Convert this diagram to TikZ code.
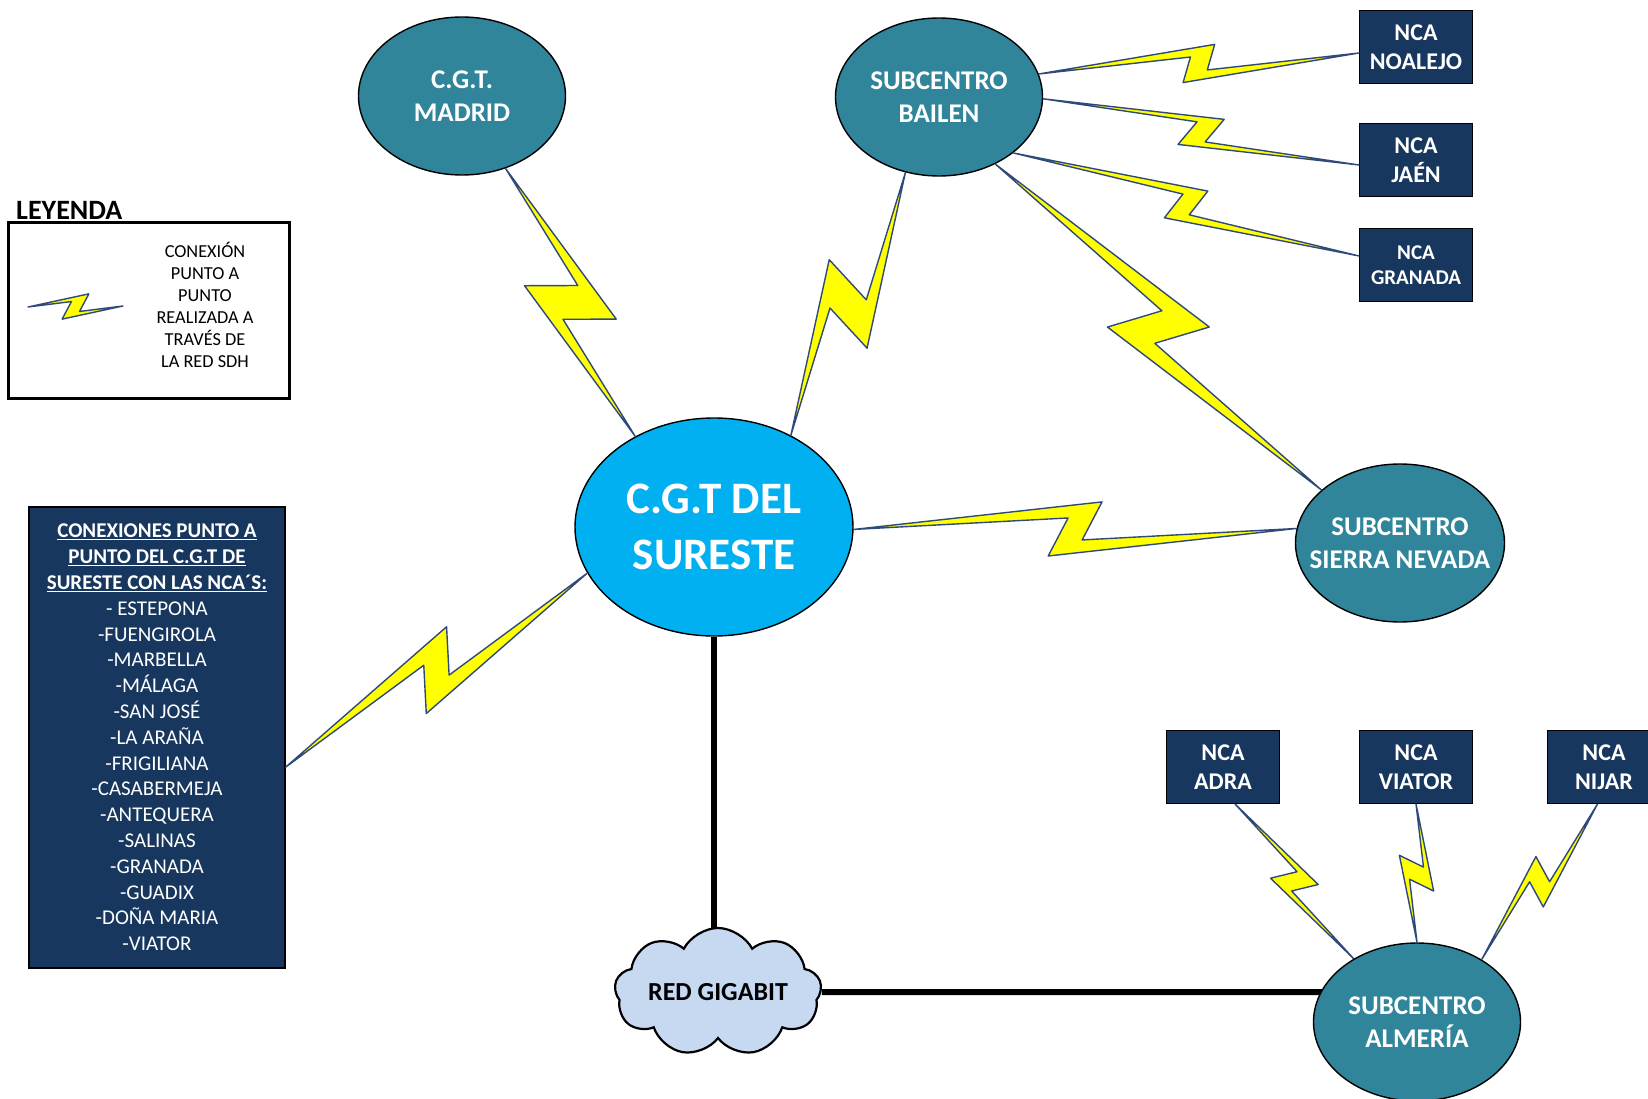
\documentclass[tikz,border=0pt]{standalone}
\usepackage{fontspec}
\setmainfont{Carlito}
\usetikzlibrary{shapes.geometric,shapes.symbols,calc}

\definecolor{hubteal}{HTML}{31859B}
\definecolor{cgtblue}{HTML}{00B0F0}
\definecolor{ncanavy}{HTML}{17375E}
\definecolor{cloudblue}{HTML}{C6D9F1}
\definecolor{boltyellow}{HTML}{FFFF00}
\definecolor{boltedge}{HTML}{2F4A7A}

\pgfdeclarelayer{bg}
\pgfsetlayers{bg,main}

\tikzset{
  hub/.style={ellipse, draw=black, line width=1.4pt, fill=hubteal, text=white,
    font=\bfseries\fontsize{27}{33}\selectfont, align=center,
    inner xsep=-30pt, inner ysep=-10pt, minimum width=207, minimum height=158},
  nca/.style={rectangle, draw=black, line width=1pt, fill=ncanavy, text=white,
    font=\bfseries\fontsize{24}{29}\selectfont, align=center,
    minimum width=113, minimum height=73, inner sep=0pt},
  boltshape/.style={fill=boltyellow, draw=boltedge, line width=1.4pt, line join=round},
  trunk/.style={draw=black, line width=6pt}
}

% Lightning link between two points: #3/#4 = tip offset along/aside,
% #5/#6 = notch offset along/aside (all measured from the midpoint)
\newcommand\boltlink[6]{%
  \path let \p1=(#1), \p2=(#2), \n1={atan2(\y2-\y1,\x2-\x1)} in
    coordinate (bM) at ($(\p1)!0.5!(\p2)$)
    coordinate (bT1) at ($(bM)+(\n1:#3)+(\n1+90:#4)$)
    coordinate (bT2) at ($(bM)-(\n1:#3)-(\n1+90:#4)$)
    coordinate (bN1) at ($(bM)-(\n1:#5)+(\n1+90:#6)$)
    coordinate (bN2) at ($(bM)+(\n1:#5)-(\n1+90:#6)$);
  \filldraw[boltshape] (#1) -- (bT1) -- (bN2) -- (#2) -- (bT2) -- (bN1) -- cycle;
}

\begin{document}
\begin{tikzpicture}[x=1pt,y=1pt]
\useasboundingbox (0,0) rectangle (1648,-1099);

% centres
\node[hub] (madrid) at (462,-96) {C.G.T.\\MADRID};
\node[hub] (bailen) at (939,-97) {SUBCENTRO\\BAILEN};
\node[hub, fill=cgtblue, minimum width=278, minimum height=218,
      font=\bfseries\fontsize{45}{56}\selectfont] (cgt) at (714,-527) {C.G.T DEL\\SURESTE};
\node[hub, minimum width=209] (sierra) at (1400,-543) {SUBCENTRO\\SIERRA NEVADA};
\node[hub] (almeria) at (1417,-1022) {SUBCENTRO\\ALMERÍA};

% NCA boxes
\node[nca] (noalejo) at (1416,-47) {NCA\\NOALEJO};
\node[nca] (jaen) at (1416,-160) {NCA\\JAÉN};
\node[nca, font=\bfseries\fontsize{21}{25}\selectfont] (granada) at (1416,-265) {NCA\\GRANADA};
\node[nca] (adra) at (1223,-767) {NCA\\ADRA};
\node[nca] (viator) at (1416,-767) {NCA\\VIATOR};
\node[nca] (nijar) at (1604,-767) {NCA\\NIJAR};

% gigabit network
\node[cloud, cloud puffs=9, cloud puff arc=125, cloud ignores aspect, draw=black,
      line width=2.2pt, fill=cloudblue, minimum width=207, minimum height=128,
      inner sep=0pt, font=\bfseries\fontsize{26}{30}\selectfont] (cloud) at (718,-992) {RED GIGABIT};

% legend
\node[draw=black, line width=3pt, minimum width=281, minimum height=175,
      inner sep=0pt] (legbox) at (148.5,-310.5) {};
\node[anchor=base west, inner sep=0pt, font=\bfseries\fontsize{28}{30}\selectfont]
      (legtitle) at (16,-220) {LEYENDA};
\node[inner sep=0pt, align=center, font=\fontsize{18.3}{22}\selectfont]
      (legtext) at (205,-305) {CONEXIÓN\\PUNTO A\\PUNTO\\REALIZADA A\\TRAVÉS DE\\LA RED SDH};
\coordinate (legA) at (28,-307);
\coordinate (legB) at (123,-306);

% list of direct links
\node[draw=black, line width=1.2pt, fill=ncanavy, text=white, minimum width=256,
      minimum height=461, inner sep=0pt, align=center,
      font=\fontsize{21}{25.8}\selectfont] (list) at (157,-737.5)
  {\textbf{\underline{CONEXIONES PUNTO A}}\\
   \textbf{\underline{PUNTO DEL C.G.T DE}}\\
   \textbf{\underline{SURESTE CON LAS NCA´S:}}\\
   - ESTEPONA\\-FUENGIROLA\\-MARBELLA\\-MÁLAGA\\-SAN JOSÉ\\-LA ARAÑA\\
   -FRIGILIANA\\-CASABERMEJA\\-ANTEQUERA\\-SALINAS\\-GRANADA\\-GUADIX\\
   -DOÑA MARIA\\-VIATOR};

% wired links
\begin{pgfonlayer}{bg}
  \fill[white] (0,0) rectangle (1648,-1099);
  \draw[trunk] (cgt) -- (cgt |- cloud);
  \draw[trunk] (cloud) -- (cloud -| almeria);
\end{pgfonlayer}

% SDH point-to-point links
\boltlink{madrid.-59}{cgt.131}{35}{34}{12}{14}
\boltlink{bailen.246}{cgt.50}{33}{35}{11}{15}
\boltlink{bailen.13}{noalejo.186}{17}{18}{8}{7}
\boltlink{bailen.-1}{jaen.185}{20}{17}{6}{9}
\boltlink{bailen.-37}{granada.171}{17}{19}{6}{9}
\boltlink{bailen.-50}{sierra.146}{36}{36}{9}{14}
\boltlink{cgt.-1}{sierra.172}{27}{27}{7}{11}
\boltlink{list.-13}{cgt.200}{32}{31}{8}{11}
\boltlink{adra.-72}{almeria.135}{17}{17}{6}{8}
\boltlink{viator.-90}{almeria.90}{18}{17}{6}{7}
\boltlink{nijar.-100}{almeria.44}{18}{18}{6}{8}
\boltlink{legA}{legB}{13.5}{12.5}{4}{5}

\end{tikzpicture}
\end{document}
